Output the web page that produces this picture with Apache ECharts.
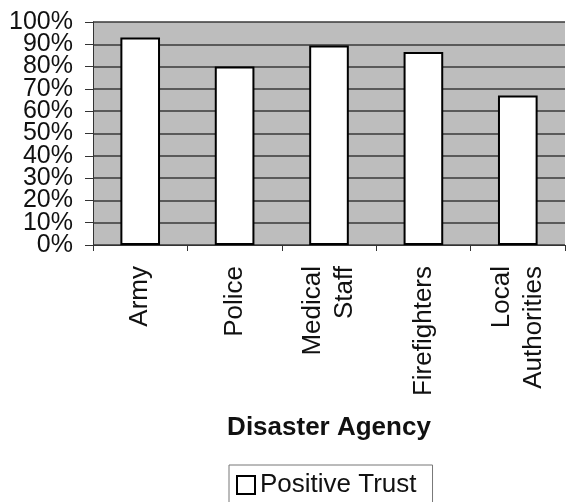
<!DOCTYPE html>
<html>
<head>
<meta charset="utf-8">
<script src="https://cdn.jsdelivr.net/npm/echarts@6/dist/echarts.min.js"></script>
<style>html,body{margin:0;padding:0;background:#fff;}#c{width:568px;height:502px;}</style>
</head>
<body>
<div id="c"></div>
<script>
const categories = ['Army', 'Police', 'Medical\nStaff', 'Firefighters', 'Local\nAuthorities'];
const positiveTrust = [93, 80, 89.5, 86.5, 67];
const yTicksEven = [0, 20, 40, 60, 80, 100];
const yTicksOdd = [10, 30, 50, 70, 90];
const seriesName = 'Positive Trust';
const xAxisTitle = 'Disaster Agency';

const FONT = '"Liberation Sans", Arial, sans-serif';
function yAxisFor(ticks, primary) {
  return {
    type: 'value',
    position: 'left',
    offset: 0,
    min: 0, max: 100, interval: 10,
    axisLine: {show: primary, lineStyle: {color: '#333', width: 1}},
    axisTick: {show: primary, length: 8, lineStyle: {color: '#333'}},
    axisLabel: {
      margin: 20, fontFamily: FONT, fontSize: 25, color: '#111',
      showMinLabel: true, showMaxLabel: true, hideOverlap: false,
      formatter: function (v) { return ticks.indexOf(v) >= 0 ? v + '%' : ''; }
    },
    splitLine: {show: primary, lineStyle: {color: '#3a3a3a', width: 1.5}}
  };
}
const chart = echarts.init(document.getElementById('c'), null, {renderer: 'canvas'});
chart.setOption({
  animation: false,
  backgroundColor: '#fff',
  textStyle: {fontFamily: FONT, color: '#111'},
  grid: {
    left: 93, right: 3, top: 22, bottom: 257,
    show: true, backgroundColor: '#bdbdbd', borderWidth: 0
  },
  legend: {
    data: [seriesName],
    left: 229, top: 465,
    padding: [7, 16, 7, 7],
    borderColor: '#777', borderWidth: 1,
    itemWidth: 18, itemHeight: 18, itemGap: 8,
    icon: 'rect',
    itemStyle: {color: '#fff', borderColor: '#000', borderWidth: 2},
    textStyle: {fontFamily: FONT, fontSize: 26, color: '#111'}
  },
  xAxis: {
    type: 'category',
    data: categories,
    name: xAxisTitle,
    nameLocation: 'middle',
    nameGap: 170,
    nameTextStyle: {fontFamily: FONT, fontSize: 26, fontWeight: 'bold', color: '#111'},
    axisLine: {show: true, lineStyle: {color: '#333', width: 1}},
    axisTick: {show: true, length: 6, lineStyle: {color: '#333'}},
    axisLabel: {rotate: 90, margin: 21, fontFamily: FONT, fontSize: 26, lineHeight: 32, color: '#111', align: 'right', verticalAlign: 'middle'},
    splitLine: {show: false}
  },
  yAxis: [yAxisFor(yTicksEven, true), yAxisFor(yTicksOdd, false)],
  series: [{
    name: seriesName,
    type: 'bar',
    data: positiveTrust,
    yAxisIndex: 0,
    barWidth: '42%',
    itemStyle: {color: '#fff', borderColor: '#000', borderWidth: 2}
  }]
});
</script>
</body>
</html>
